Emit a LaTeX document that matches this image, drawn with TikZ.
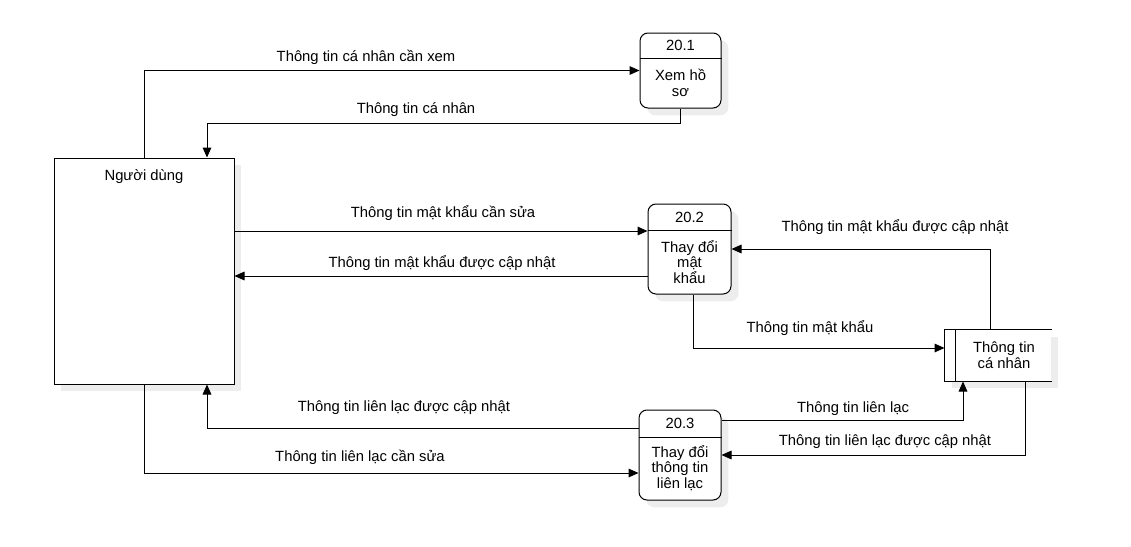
\documentclass[tikz,border=0pt]{standalone}
\usepackage{fontspec}
\setmainfont{Liberation Sans}
\usetikzlibrary{arrows.meta,shadows}
\begin{document}
\begin{tikzpicture}[x=0.75pt,y=-0.75pt,
  line width=0.75pt,
  font=\fontsize{11.1}{11.6}\selectfont,
  arr/.style={-{Triangle[length=7.5pt,width=6.5pt]}},
  lbl/.style={inner sep=0pt},
  shad/.style={drop shadow={shadow xshift=5.5pt,shadow yshift=-5.5pt,fill=black!7,opacity=1}},
  entity/.style={draw,fill=white,shad,minimum width=135pt,minimum height=169.5pt,inner sep=0pt},
  proc/.style={draw,fill=white,rounded corners=6pt,shad,inner sep=0pt},
  store/.style={fill=white,shad,minimum width=79.5pt,minimum height=38.25pt,inner sep=0pt},
  txt/.style={align=center,inner sep=0pt}]
\useasboundingbox (0,0) rectangle (1131,546);
\fill[white] (0,0) rectangle (1131,546);

% entity
\node[entity,label={[anchor=center,yshift=-14.25pt,inner sep=0pt]north:Người dùng}] (u) at (144,271) {};

% processes
\node[proc,minimum width=60.75pt,minimum height=56.25pt] (p1) at (680.5,70.5) {};
\draw (p1.west |- 0,58) -- (p1.east |- 0,58);
\node[txt] (p1h) at (680.5,45.5) {20.1};
\node[txt] (p1b) at (680.5,83) {Xem hồ\\sơ};

\node[proc,minimum width=62.25pt,minimum height=67.5pt] (p2) at (689.5,249) {};
\draw (p2.west |- 0,230) -- (p2.east |- 0,230);
\node[txt] (p2h) at (689.5,217) {20.2};
\node[txt] (p2b) at (689.5,262) {Thay đổi\\mật\\khẩu};

\node[proc,minimum width=61.5pt,minimum height=67.5pt] (p3) at (680,455) {};
\draw (p3.west |- 0,437) -- (p3.east |- 0,437);
\node[txt] (p3h) at (680,423.5) {20.3};
\node[txt] (p3b) at (680,468) {Thay đổi\\thông tin\\liên lạc};

% data store
\node[store] (ds) at (998,355.5) {};
\draw (ds.north east) -- (ds.north west) -- (ds.south west) -- (ds.south east);
\draw ([xshift=8.25pt]ds.north west) -- ([xshift=8.25pt]ds.south west);
\node[txt] (dst) at (1004,355) {Thông tin\\cá nhân};

% connectors
\draw[arr] (u.north) |- (p1.west);
\node[lbl] (l1) at (366,57) {Thông tin cá nhân cần xem};

\draw[arr] (p1.south) -- ++(0,15) -| (u.north -| 207,0);
\node[lbl] (l2) at (416,110) {Thông tin cá nhân};

\draw[arr] (u.east |- 0,231) -- (p2.west |- 0,231);
\node[lbl] (l3) at (443,213) {Thông tin mật khẩu cần sửa};

\draw[arr] (p2.west |- 0,276) -- (u.east |- 0,276);
\node[lbl] (l4) at (442,263) {Thông tin mật khẩu được cập nhật};

\draw[arr] (ds.north -| 990,0) |- (p2.east);
\node[lbl] (l5) at (895,227) {Thông tin mật khẩu được cập nhật};

\draw[arr] (p2.south -| 693,0) |- (ds.west |- 0,348);
\node[lbl] (l6) at (810,328) {Thông tin mật khẩu};

\draw[arr] (p3.east |- 0,420) -| (ds.south -| 963,0);
\node[lbl] (l7) at (853,409) {Thông tin liên lạc};

\draw[arr] (ds.south -| 1025,0) |- (p3.east);
\node[lbl] (l8) at (885,442) {Thông tin liên lạc được cập nhật};

\draw[arr] (p3.west |- 0,428) -| (u.south -| 207,0);
\node[lbl] (l9) at (404,408) {Thông tin liên lạc được cập nhật};

\draw[arr] (u.south) |- (p3.west |- 0,473);
\node[lbl] (l10) at (360,457) {Thông tin liên lạc cần sửa};
\end{tikzpicture}
\end{document}
